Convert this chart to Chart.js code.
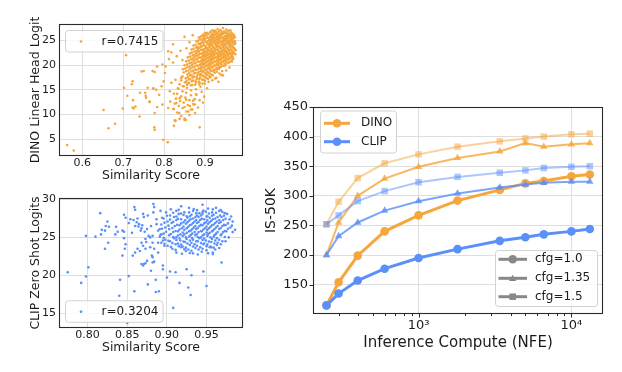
<!DOCTYPE html>
<html><head><meta charset="utf-8">
<script src="https://cdn.jsdelivr.net/npm/chart.js@4.4.0/dist/chart.umd.min.js"></script>
<style>
html,body{margin:0;padding:0;background:#fff;}
#wrap{position:relative;width:622px;height:372px;overflow:hidden;background:#fff;}
canvas{position:absolute;left:0;top:0;}
</style></head><body>
<div id="wrap">
<canvas id="c1" width="622" height="372"></canvas>
<canvas id="c2" width="622" height="372"></canvas>
<canvas id="c3" width="622" height="372"></canvas>
</div>
<script>
// ---------------- DATA ----------------
const dinoSparse = [
[0.563,3.8],[0.579,2.7],[0.652,10.9],[0.664,7.2],[0.680,8.1],[0.699,11.2],[0.702,15.4],[0.707,22.0],[0.710,13.8],
[0.721,16.1],[0.723,16.7],[0.723,11.4],[0.726,11.2],[0.730,11.6],[0.724,12.9],[0.740,9.6],[0.741,14.4],[0.745,18.7],
[0.750,18.8],[0.754,14.4],[0.755,13.8],[0.756,13.4],[0.760,15.4],[0.764,12.5],[0.772,18.8],[0.774,15.3],[0.776,7.4],
[0.777,6.9],[0.777,18.6],[0.783,19.7],[0.796,20.1],[0.804,19.7],[0.802,18.4],[0.773,15.2],[0.781,15.0],[0.794,15.7],
[0.799,16.7],[0.788,14.0],[0.765,12.6],[0.783,11.5],[0.796,12.0],[0.777,10.3],[0.810,11.3],[0.824,7.7],[0.826,8.8],
[0.838,9.1],[0.850,9.2],[0.887,7.4],[0.798,4.9],[0.809,4.4],[0.850,25.7],[0.818,16.4],[0.828,17.0],[0.842,17.4],
[0.814,14.7],[0.834,15.3],[0.824,14.2],[0.846,15.7],[0.856,16.0],[0.838,13.3],[0.854,13.0],[0.871,12.8],[0.879,14.0],
[0.815,12.6],[0.830,12.3],[0.850,11.5],[0.863,11.7],[0.875,12.0],[0.887,12.9],[0.824,11.1],[0.837,10.3],[0.859,10.6],
[0.869,11.0],[0.883,11.4],[0.895,12.4],[0.850,8.9],[0.812,21.2],[0.822,20.5],[0.831,21.8],[0.818,22.6],[0.840,22.9],
[0.845,21.0],[0.855,23.4],[0.862,24.6],[0.870,26.0],[0.810,22.8],[0.822,24.2],[0.944,17.9],[0.933,16.6],[0.952,18.9],
[0.960,19.5],[0.928,17.4],[0.940,18.0]
];
const dinoCluster = [
[0.931,27.3],[0.944,27.5],[0.952,27.2],[0.917,27.0],[0.926,26.9],[0.938,27.1],[0.947,26.8],[0.958,27.0],
[0.905,26.5],[0.913,26.7],[0.922,26.6],[0.933,26.4],[0.941,26.7],[0.950,26.5],[0.957,26.3],[0.963,26.6],
[0.896,26.1],[0.909,26.3],[0.918,26.0],[0.927,26.2],[0.936,26.1],[0.944,26.3],[0.953,26.0],[0.960,26.2],[0.967,26.1],
[0.889,25.7],[0.901,25.9],[0.912,25.6],[0.921,25.8],[0.929,25.7],[0.937,25.9],[0.946,25.6],[0.955,25.8],[0.962,25.7],[0.969,25.9],
[0.894,25.3],[0.905,25.5],[0.915,25.2],[0.924,25.4],[0.932,25.3],[0.940,25.5],[0.948,25.2],[0.956,25.4],[0.964,25.3],[0.971,25.5],
[0.883,24.9],[0.898,25.1],[0.908,24.8],[0.918,25.0],[0.926,24.9],[0.934,25.1],[0.942,24.8],[0.950,25.0],[0.958,24.9],[0.966,25.1],[0.973,24.8],
[0.891,24.5],[0.902,24.7],[0.912,24.4],[0.921,24.6],[0.929,24.5],[0.937,24.7],[0.945,24.4],[0.953,24.6],[0.961,24.5],[0.968,24.7],
[0.877,24.1],[0.887,24.3],[0.897,24.0],[0.907,24.2],[0.915,24.1],[0.924,24.3],[0.932,24.0],[0.940,24.2],[0.948,24.1],[0.956,24.3],[0.964,24.0],[0.972,24.2],
[0.882,23.7],[0.893,23.9],[0.903,23.6],[0.912,23.8],[0.920,23.7],[0.928,23.9],[0.936,23.6],[0.944,23.8],[0.952,23.7],[0.960,23.9],[0.968,23.6],
[0.872,23.3],[0.886,23.5],[0.897,23.2],[0.906,23.4],[0.915,23.3],[0.923,23.5],[0.931,23.2],[0.939,23.4],[0.947,23.3],[0.955,23.5],[0.963,23.2],[0.971,23.4],
[0.879,22.9],[0.890,23.1],[0.900,22.8],[0.910,23.0],[0.918,22.9],[0.927,23.1],[0.935,22.8],[0.943,23.0],[0.951,22.9],[0.959,23.1],[0.967,22.8],[0.975,23.0],
[0.868,22.5],[0.883,22.7],[0.894,22.4],[0.904,22.6],[0.913,22.5],[0.921,22.7],[0.930,22.4],[0.938,22.6],[0.946,22.5],[0.954,22.7],[0.962,22.4],[0.970,22.6],
[0.875,22.1],[0.887,22.3],[0.898,22.0],[0.908,22.2],[0.917,22.1],[0.925,22.3],[0.934,22.0],[0.942,22.2],[0.950,22.1],[0.958,22.3],[0.966,22.0],[0.974,22.2],
[0.864,21.7],[0.880,21.9],[0.892,21.6],[0.902,21.8],[0.911,21.7],[0.920,21.9],[0.929,21.6],[0.937,21.8],[0.946,21.7],[0.955,21.9],[0.964,21.6],
[0.871,21.3],[0.885,21.5],[0.896,21.2],[0.906,21.4],[0.915,21.3],[0.924,21.5],[0.933,21.2],[0.942,21.4],[0.951,21.3],[0.961,21.5],[0.969,21.2],
[0.860,20.9],[0.877,21.1],[0.890,20.8],[0.900,21.0],[0.909,20.9],[0.918,21.1],[0.928,20.8],[0.937,21.0],[0.947,20.9],[0.957,21.1],
[0.867,20.5],[0.882,20.7],[0.894,20.4],[0.904,20.6],[0.913,20.5],[0.923,20.7],[0.933,20.4],[0.943,20.6],[0.954,20.5],[0.966,20.7],
[0.856,20.1],[0.873,20.3],[0.887,20.0],[0.898,20.2],[0.908,20.1],[0.918,20.3],[0.928,20.0],[0.939,20.2],[0.951,20.1],
[0.863,19.7],[0.879,19.9],[0.891,19.6],[0.902,19.8],[0.912,19.7],[0.923,19.9],[0.934,19.6],[0.947,19.8],
[0.852,19.3],[0.869,19.5],[0.884,19.2],[0.896,19.4],[0.907,19.3],[0.918,19.5],[0.930,19.2],
[0.860,18.9],[0.876,19.1],[0.890,18.8],[0.901,19.0],[0.913,18.9],[0.926,19.1],[0.942,18.8],
[0.848,18.5],[0.867,18.7],[0.882,18.4],[0.895,18.6],[0.908,18.5],[0.921,18.7],
[0.857,18.1],[0.873,18.3],[0.888,18.0],[0.902,18.2],[0.916,18.1],[0.935,18.3],
[0.845,17.7],[0.864,17.9],[0.880,17.6],[0.895,17.8],[0.911,17.7],
[0.853,17.3],[0.870,17.5],[0.886,17.2],[0.903,17.4],[0.925,17.3],
[0.842,16.9],[0.861,17.1],[0.877,16.8],[0.896,17.0],[0.918,16.9],
[0.851,16.5],[0.868,16.7],[0.887,16.4],[0.909,16.6],
[0.838,16.1],[0.858,16.3],[0.876,16.0],[0.899,16.2],
[0.848,15.7],[0.866,15.9],[0.889,15.6],
[0.835,15.2],[0.856,15.4],[0.878,15.1],[0.905,15.3],
[0.845,14.7],[0.866,14.9],[0.892,14.6],
[0.832,14.2],[0.854,14.4],[0.878,14.1],
[0.842,13.7],[0.866,13.9],[0.898,13.6],
[0.829,13.2],[0.852,13.4],[0.875,13.1],
[0.839,12.7],[0.862,12.9],[0.826,12.2],[0.848,12.4],[0.871,12.1],
[0.836,11.7],[0.858,11.9],[0.822,11.1],[0.845,11.3],[0.866,11.0],
[0.832,10.4],[0.855,10.6],[0.876,10.3],[0.842,9.7],[0.862,9.9],[0.828,8.7],[0.853,8.9]
];
const dinoCore = [
[0.921,26.95],[0.934,26.85],[0.955,26.75],[0.962,27.05],
[0.900,26.45],[0.917,26.35],[0.928,26.55],[0.939,26.3],[0.946,26.5],[0.955,26.4],[0.967,26.35],
[0.893,25.95],[0.904,26.05],[0.914,25.9],[0.923,26.1],[0.931,25.95],[0.940,26.05],[0.949,25.85],[0.958,26.1],[0.964,25.9],[0.971,26.05],
[0.885,25.55],[0.897,25.65],[0.907,25.5],[0.917,25.6],[0.925,25.45],[0.934,25.65],[0.942,25.55],[0.951,25.45],[0.959,25.6],[0.966,25.5],[0.973,25.65],
[0.888,25.15],[0.900,25.25],[0.910,25.05],[0.920,25.25],[0.928,25.15],[0.936,25.3],[0.944,25.1],[0.953,25.2],[0.961,25.05],[0.968,25.25],
[0.879,24.75],[0.894,24.85],[0.904,24.65],[0.914,24.8],[0.923,24.7],[0.931,24.85],[0.939,24.65],[0.947,24.8],[0.955,24.7],[0.963,24.85],[0.970,24.6],
[0.884,24.35],[0.896,24.45],[0.906,24.3],[0.917,24.4],[0.926,24.25],[0.934,24.45],[0.942,24.35],[0.950,24.3],[0.958,24.45],[0.966,24.35],[0.974,24.45],
[0.872,23.95],[0.889,24.05],[0.901,23.85],[0.910,24.0],[0.919,23.9],[0.927,24.05],[0.935,23.85],[0.943,24.0],[0.951,23.9],[0.959,24.05],[0.967,23.85],
[0.878,23.55],[0.891,23.65],[0.902,23.45],[0.911,23.6],[0.920,23.5],[0.929,23.65],[0.937,23.45],[0.945,23.6],[0.953,23.5],[0.962,23.65],[0.970,23.5],
[0.867,23.15],[0.883,23.25],[0.895,23.05],[0.905,23.2],[0.914,23.1],[0.923,23.25],[0.932,23.05],[0.940,23.2],[0.948,23.1],[0.956,23.25],[0.965,23.05],[0.973,23.2],
[0.874,22.75],[0.886,22.85],[0.897,22.65],[0.907,22.8],[0.916,22.7],[0.925,22.85],[0.934,22.65],[0.942,22.8],[0.950,22.7],[0.958,22.85],[0.966,22.65],
[0.863,22.35],[0.879,22.45],[0.891,22.25],[0.901,22.4],[0.911,22.3],[0.920,22.45],[0.929,22.25],[0.937,22.4],[0.945,22.3],[0.953,22.45],[0.961,22.25],[0.969,22.4],
[0.870,21.95],[0.884,22.05],[0.895,21.85],[0.905,22.0],[0.914,21.9],[0.923,22.05],[0.932,21.85],[0.940,22.0],[0.948,21.9],[0.957,22.05],[0.965,21.85],
[0.858,21.55],[0.875,21.65],[0.888,21.45],[0.899,21.6],[0.909,21.5],[0.918,21.65],[0.926,21.45],[0.935,21.6],[0.944,21.5],[0.952,21.65],[0.960,21.45],[0.968,21.6],
[0.866,21.15],[0.881,21.25],[0.893,21.05],[0.903,21.2],[0.912,21.1],[0.921,21.25],[0.930,21.05],[0.939,21.2],[0.948,21.1],[0.956,21.25],[0.965,21.05],
[0.854,20.75],[0.872,20.85],[0.885,20.65],[0.896,20.8],[0.906,20.7],[0.915,20.85],[0.924,20.65],[0.933,20.8],[0.942,20.7],[0.951,20.85],[0.961,20.65],
[0.862,20.35],[0.877,20.45],[0.890,20.25],[0.901,20.4],[0.910,20.3],[0.919,20.45],[0.929,20.25],[0.938,20.4],[0.948,20.3],[0.958,20.45],
[0.850,19.95],[0.868,20.05],[0.882,19.85],[0.894,20.0],[0.904,19.9],[0.913,20.05],[0.923,19.85],[0.933,20.0],[0.943,19.9],
[0.857,19.55],[0.874,19.65],[0.887,19.45],[0.898,19.6],[0.908,19.5],[0.918,19.65],[0.928,19.45],[0.939,19.6],
[0.846,19.15],[0.864,19.25],[0.879,19.05],[0.891,19.2],[0.902,19.1],[0.912,19.25],[0.922,19.05],[0.934,19.2],
[0.854,18.75],[0.871,18.85],[0.885,18.65],[0.896,18.8],[0.906,18.7],[0.916,18.85],[0.929,18.65],
[0.861,18.35],[0.876,18.45],[0.890,18.25],[0.901,18.4],[0.912,18.3],[0.924,18.45],
[0.867,17.95],[0.882,18.05],[0.894,17.85],[0.906,18.0],[0.919,17.9],
[0.858,17.55],[0.874,17.65],[0.888,17.45],[0.900,17.6],[0.913,17.5],
[0.864,17.15],[0.880,17.25],[0.893,17.05],[0.907,17.2],
[0.855,16.75],[0.871,16.85],[0.885,16.65],[0.900,16.8],
[0.861,16.35],[0.878,16.45],[0.894,16.25],[0.869,15.95],[0.886,16.05]
];
const clipSparse = [
[0.775,20.4],[0.792,19.0],[0.798,19.85],[0.801,21.05],[0.792,15.25],[0.798,25.2],[0.810,25.1],[0.816,28.2],[0.817,25.4],
[0.818,26.0],[0.822,25.9],[0.823,26.5],[0.825,27.1],[0.827,26.4],[0.826,24.3],[0.822,23.5],[0.835,25.4],[0.838,25.75],
[0.844,25.9],[0.846,25.75],[0.846,28.0],[0.846,24.9],[0.848,24.1],[0.847,23.5],[0.844,22.6],[0.840,17.3],[0.841,19.4],
[0.852,19.9],[0.850,13.7],[0.859,29.0],[0.860,28.65],[0.854,27.4],[0.858,27.3],[0.863,27.5],[0.865,26.75],[0.860,26.5],
[0.864,26.45],[0.869,26.6],[0.870,28.1],[0.871,27.7],[0.867,25.9],[0.872,25.75],[0.875,26.1],[0.877,25.2],[0.873,24.8],
[0.868,24.3],[0.870,23.9],[0.860,23.0],[0.857,22.6],[0.863,23.5],[0.873,23.5],[0.879,23.7],[0.882,24.3],[0.871,21.5],
[0.868,21.5],[0.873,21.6],[0.870,21.3],[0.875,21.9],[0.882,21.7],[0.884,21.8],[0.859,17.9],[0.876,18.8],[0.969,21.7],
[0.946,20.5],[0.931,20.0],[0.911,20.4],[0.904,20.5],[0.925,20.8],[0.895,21.3],[0.895,20.8],[0.900,19.7],[0.886,19.4],
[0.916,19.0],[0.950,18.6],[0.927,18.4],[0.886,17.8],[0.890,17.9],[0.930,17.4],[0.908,15.7],[0.956,23.7],[0.958,22.8],
[0.882,22.4],[0.889,23.0],[0.880,20.6],[0.883,29.4],[0.884,29.0],[0.892,28.5],[0.894,27.6],[0.887,27.4],[0.883,28.3],
[0.887,26.75],[0.891,26.1],[0.893,25.4],[0.882,25.2],[0.889,24.3],[0.895,24.6],[0.897,23.9],[0.884,23.5],[0.880,26.5],
[0.862,27.0],[0.868,26.2],[0.876,27.9],[0.879,25.0],[0.856,25.6],[0.852,26.9],[0.874,24.4],[0.866,23.2],[0.881,22.6],
[0.848,27.6],[0.836,26.4]
];
const clipCluster = [
[0.918,29.1],[0.945,29.3],[0.905,28.7],[0.928,28.9],[0.938,28.6],[0.952,28.8],[0.962,28.9],
[0.899,28.3],[0.912,28.5],[0.922,28.3],[0.933,28.5],[0.941,28.2],[0.949,28.4],[0.957,28.3],[0.966,28.5],[0.973,28.2],
[0.904,27.9],[0.915,28.1],[0.925,27.8],[0.931,28.0],[0.938,27.9],[0.945,28.1],[0.951,27.8],[0.959,28.0],[0.967,27.9],[0.976,28.1],
[0.896,27.5],[0.909,27.7],[0.918,27.4],[0.926,27.6],[0.933,27.5],[0.940,27.7],[0.947,27.4],[0.954,27.6],[0.961,27.5],[0.969,27.7],[0.979,27.4],
[0.901,27.1],[0.912,27.3],[0.921,27.0],[0.928,27.2],[0.935,27.1],[0.942,27.3],[0.949,27.0],[0.956,27.2],[0.963,27.1],[0.971,27.3],[0.983,27.1],
[0.893,26.7],[0.906,26.9],[0.916,26.6],[0.924,26.8],[0.931,26.7],[0.938,26.9],[0.945,26.6],[0.952,26.8],[0.959,26.7],[0.966,26.9],[0.974,26.6],
[0.898,26.3],[0.910,26.5],[0.919,26.2],[0.927,26.4],[0.934,26.3],[0.941,26.5],[0.948,26.2],[0.955,26.4],[0.962,26.3],[0.970,26.5],[0.980,26.3],
[0.889,25.9],[0.903,26.1],[0.914,25.8],[0.922,26.0],[0.930,25.9],[0.937,26.1],[0.944,25.8],[0.951,26.0],[0.958,25.9],[0.966,26.1],[0.975,25.8],[0.986,26.0],
[0.896,25.5],[0.908,25.7],[0.917,25.4],[0.925,25.6],[0.932,25.5],[0.940,25.7],[0.947,25.4],[0.954,25.6],[0.962,25.5],[0.971,25.7],
[0.891,25.1],[0.903,25.3],[0.912,25.0],[0.920,25.2],[0.928,25.1],[0.936,25.3],[0.943,25.0],[0.951,25.2],[0.959,25.1],[0.968,25.3],[0.978,25.0],
[0.898,24.7],[0.909,24.9],[0.917,24.6],[0.925,24.8],[0.933,24.7],[0.941,24.9],[0.949,24.6],[0.957,24.8],[0.966,24.7],
[0.893,24.3],[0.904,24.5],[0.914,24.2],[0.923,24.4],[0.931,24.3],[0.939,24.5],[0.947,24.2],[0.956,24.4],[0.964,24.3],[0.974,24.5],
[0.901,23.9],[0.911,24.1],[0.920,23.8],[0.929,24.0],[0.938,23.9],[0.946,24.1],[0.955,23.8],[0.963,24.0],
[0.907,23.5],[0.918,23.7],[0.927,23.4],[0.936,23.6],[0.945,23.5],[0.954,23.7],[0.966,23.6],
[0.912,23.0],[0.924,23.2],[0.933,22.9],[0.944,23.1],[0.958,23.0]
];
const clipCore = [
[0.915,28.65],[0.934,28.75],[0.946,28.55],[0.958,28.7],[0.968,28.6],
[0.908,28.25],[0.918,28.15],[0.928,28.3],[0.937,28.2],[0.945,28.35],[0.953,28.15],[0.962,28.25],[0.970,28.35],
[0.900,27.85],[0.912,27.75],[0.921,27.95],[0.929,27.8],[0.936,27.7],[0.943,27.9],[0.950,27.75],[0.957,27.85],[0.964,27.7],[0.972,27.85],[0.981,27.75],
[0.904,27.35],[0.914,27.45],[0.923,27.25],[0.930,27.4],[0.937,27.3],[0.944,27.45],[0.951,27.25],[0.958,27.4],[0.966,27.3],[0.974,27.45],
[0.897,26.95],[0.908,27.05],[0.918,26.85],[0.926,27.0],[0.933,26.9],[0.940,27.05],[0.947,26.85],[0.954,27.0],[0.961,26.9],[0.968,27.05],[0.977,26.85],
[0.902,26.55],[0.913,26.65],[0.921,26.45],[0.929,26.6],[0.936,26.5],[0.943,26.65],[0.950,26.45],[0.957,26.6],[0.964,26.5],[0.972,26.65],[0.982,26.55],
[0.894,26.15],[0.907,26.25],[0.916,26.05],[0.925,26.2],[0.932,26.1],[0.939,26.25],[0.946,26.05],[0.953,26.2],[0.960,26.1],[0.968,26.25],[0.977,26.15],
[0.899,25.75],[0.911,25.85],[0.920,25.65],[0.928,25.8],[0.935,25.7],[0.943,25.85],[0.950,25.65],[0.957,25.8],[0.964,25.7],[0.973,25.85],[0.983,25.7],
[0.892,25.35],[0.905,25.45],[0.914,25.25],[0.922,25.4],[0.930,25.3],[0.938,25.45],[0.945,25.25],[0.952,25.4],[0.960,25.3],[0.969,25.45],
[0.896,24.95],[0.908,25.05],[0.916,24.85],[0.924,25.0],[0.932,24.9],[0.939,25.05],[0.947,24.85],[0.955,25.0],[0.963,24.9],[0.973,25.05],
[0.902,24.55],[0.912,24.65],[0.921,24.45],[0.929,24.6],[0.937,24.5],[0.945,24.65],[0.953,24.45],[0.961,24.6],[0.970,24.5],
[0.897,24.15],[0.907,24.25],[0.918,24.05],[0.926,24.2],[0.935,24.1],[0.943,24.25],[0.951,24.05],[0.960,24.2],[0.968,24.1],
[0.905,23.75],[0.915,23.85],[0.924,23.65],[0.933,23.8],[0.942,23.7],[0.950,23.85],[0.959,23.65],
[0.911,23.35],[0.922,23.45],[0.931,23.25],[0.940,23.4],[0.950,23.3],[0.961,23.4],
[0.919,22.85],[0.929,22.95],[0.939,22.75],[0.952,22.9]
];
const dinoLegend = 'r=0.7415';
const clipLegend = 'r=0.3204';
const simTicksTop = [0.6, 0.7, 0.8, 0.9];
const dinoLogitTicks = [5, 10, 15, 20, 25];
const simTicksBottom = [0.80, 0.85, 0.90, 0.95];
const clipLogitTicks = [15, 20, 25, 30];

const nfe = [250, 300, 400, 600, 1000, 1800, 3400, 5000, 6600, 10000, 13200];
const dinoCfg10  = [115, 154, 199, 240, 267, 292, 310, 321, 325, 333, 336];
const dinoCfg135 = [200, 255, 300, 329, 349, 364, 375, 389, 383, 387, 389];
const dinoCfg15  = [252, 290, 330, 355, 370, 383, 392, 397, 400, 404, 405];
const clipCfg10  = [115, 135, 157, 177, 195, 210, 224, 230, 235, 240, 244];
const clipCfg135 = [200, 232, 255, 275, 291, 304, 314, 319, 322, 324, 324];
const clipCfg15  = [252, 267, 291, 308, 323, 332, 339, 343, 347, 349, 350];
const isTicks = [150, 200, 250, 300, 350, 400, 450];
const nfeMajor = [1000, 10000];
const nfeMinor = [300, 400, 500, 600, 700, 800, 900, 2000, 3000, 4000, 5000, 6000, 7000, 8000, 9000];
const methodNames = ['DINO', 'CLIP'];
const cfgNames = ['cfg=1.0', 'cfg=1.35', 'cfg=1.5'];

// ---------------- STYLE ----------------
const FONT = '"DejaVu Sans", "Liberation Sans", sans-serif';
Chart.defaults.font.family = FONT;
const TXT = '#1c1c1c';
const GRID = '#dedede';
const AXIS = '#2a2a2a';
const OR = [245,166,60], BL = [91,143,249];
const rgba = (c,a) => `rgba(${c[0]},${c[1]},${c[2]},${a})`;

const fix = size => scale => {
  if (scale.isHorizontal()) scale.height = size; else scale.width = size;
  scale.paddingLeft = scale.paddingRight = scale.paddingTop = scale.paddingBottom = 0;
};
const setTicks = arr => scale => { scale.ticks = arr.map(v => ({value: v})); };

function legendBox(ctx, x, y, w, h) {
  ctx.save();
  ctx.beginPath();
  if (ctx.roundRect) ctx.roundRect(x + 0.5, y + 0.5, w, h, 3); else ctx.rect(x + 0.5, y + 0.5, w, h);
  ctx.fillStyle = 'rgba(255,255,255,0.8)';
  ctx.fill();
  ctx.strokeStyle = '#d2d2d2';
  ctx.lineWidth = 1;
  ctx.stroke();
  ctx.restore();
}
function marker(ctx, style, x, y, r, color) {
  ctx.save();
  ctx.fillStyle = color;
  ctx.beginPath();
  if (style === 'circle') ctx.arc(x, y, r, 0, Math.PI * 2);
  else if (style === 'triangle') {
    for (let k = 0; k < 3; k++) {
      const a = -Math.PI / 2 + k * 2 * Math.PI / 3;
      const px = x + Math.cos(a) * r, py = y + Math.sin(a) * r + r * 0.15;
      k ? ctx.lineTo(px, py) : ctx.moveTo(px, py);
    }
    ctx.closePath();
  } else {
    const s = r * 1.414;
    ctx.rect(x - s / 2, y - s / 2, s, s);
  }
  ctx.fill();
  ctx.restore();
}
function text(ctx, str, x, y, size) {
  ctx.save();
  ctx.font = `${size}px ${FONT}`;
  ctx.fillStyle = TXT;
  ctx.textBaseline = 'middle';
  ctx.textAlign = 'left';
  ctx.fillText(str, x, y);
  ctx.restore();
}
function frame(chart) {
  const {ctx, chartArea: a} = chart;
  ctx.save();
  ctx.strokeStyle = AXIS;
  ctx.lineWidth = 1.1;
  ctx.strokeRect(a.left + 0.5, a.top + 0.5, a.right - a.left - 1, a.bottom - a.top - 1);
  ctx.restore();
}

function scatterConfig(points, color, pad, xTicks, xDec, xMin, xMax, yTicks, yMin, yMax, yTitle, legendStr, legendY) {
  return {
    type: 'scatter',
    data: {datasets: [{data: points.map(p => ({x: p[0], y: p[1]})), backgroundColor: color, borderWidth: 0,
      pointRadius: 1.3, pointHoverRadius: 1.3}]},
    options: {
      responsive: false, animation: false, devicePixelRatio: 1, events: [],
      layout: {padding: pad},
      plugins: {legend: {display: false}, tooltip: {enabled: false}},
      scales: {
        x: {type: 'linear', min: xMin, max: xMax, afterBuildTicks: setTicks(xTicks), afterFit: fix(30),
          grid: {color: GRID, drawTicks: false}, border: {display: false},
          ticks: {font: {size: 11}, color: TXT, padding: 1, autoSkip: false, maxRotation: 0, callback: v => v.toFixed(xDec)},
          title: {display: true, text: 'Similarity Score', font: {size: 12.5}, color: TXT, padding: {top: 0, bottom: 3}}},
        y: {type: 'linear', min: yMin, max: yMax, afterBuildTicks: setTicks(yTicks), afterFit: fix(59),
          grid: {color: GRID, drawTicks: false}, border: {display: false},
          ticks: {font: {size: 11}, color: TXT, padding: 3, autoSkip: false, callback: v => String(v)},
          title: {display: true, text: yTitle, font: {size: 12.5}, color: TXT, padding: {top: 28.5, bottom: 0}}}
      }
    },
    plugins: [{id: 'deco', afterDraw(chart) {
      frame(chart);
      const ctx = chart.ctx;
      legendBox(ctx, 65, legendY - 11.5, 97.5, 21.5);
      marker(ctx, 'circle', 81, legendY, 1.3, color);
      text(ctx, legendStr, 101.5, legendY, 12);
    }}]
  };
}

new Chart(document.getElementById('c1'), scatterConfig(
  dinoSparse.concat(dinoCluster, dinoCore), rgba(OR, 1), {left: 0, top: 24, right: 379, bottom: 186},
  simTicksTop, 1, 0.543, 0.993, dinoLogitTicks, 1.6, 28.3, 'DINO Linear Head Logit', dinoLegend, 41.5));

new Chart(document.getElementById('c2'), scatterConfig(
  clipSparse.concat(clipCluster, clipCore), rgba(BL, 1), {left: 0, top: 198, right: 379, bottom: 14},
  simTicksBottom, 2, 0.764, 0.996, clipLogitTicks, 13.05, 30.2, 'CLIP Zero Shot Logits', clipLegend, 311.8));

// ---------------- RIGHT CHART ----------------
function series(label, arr, col, alpha, style, lw, r) {
  return {label, data: nfe.map((x, i) => ({x, y: arr[i]})), showLine: true,
    borderColor: rgba(col, alpha), backgroundColor: rgba(col, alpha), borderWidth: lw,
    pointStyle: style, pointRadius: r, pointHoverRadius: r, pointBorderWidth: 0, tension: 0};
}
const allNfeTicks = nfeMinor.concat(nfeMajor).sort((a, b) => a - b);
new Chart(document.getElementById('c3'), {
  type: 'scatter',
  data: {datasets: [
    series('CLIP cfg=1.0', clipCfg10, BL, 1, 'circle', 3, 4.3),
    series('CLIP cfg=1.35', clipCfg135, BL, 0.8, 'triangle', 2, 4.3),
    series('CLIP cfg=1.5', clipCfg15, BL, 0.5, 'rect', 2, 4.6),
    series('DINO cfg=1.0', dinoCfg10, OR, 1, 'circle', 3, 4.3),
    series('DINO cfg=1.35', dinoCfg135, OR, 0.8, 'triangle', 2, 4.3),
    series('DINO cfg=1.5', dinoCfg15, OR, 0.5, 'rect', 2, 4.6)
  ]},
  options: {
    responsive: false, animation: false, devicePixelRatio: 1, events: [],
    layout: {padding: {left: 250, top: 107, right: 19, bottom: 8}},
    plugins: {legend: {display: false}, tooltip: {enabled: false}},
    scales: {
      x: {type: 'logarithmic', min: 204, max: 16100, afterBuildTicks: setTicks(allNfeTicks), afterFit: fix(50),
        grid: {drawTicks: false, color: c => (c.tick && nfeMajor.includes(c.tick.value)) ? GRID : 'rgba(0,0,0,0)'},
        border: {display: false},
        ticks: {font: {size: 13}, color: TXT, padding: 4, autoSkip: false, maxRotation: 0,
          callback: v => v === 1000 ? '10³' : (v === 10000 ? '10⁴' : '')},
        title: {display: true, text: 'Inference Compute (NFE)', font: {size: 15}, color: TXT, padding: {top: 0, bottom: 11.7}}},
      y: {type: 'linear', min: 100.5, max: 450, afterBuildTicks: setTicks(isTicks), afterFit: fix(63),
        grid: {color: GRID, drawTicks: false}, border: {display: false},
        ticks: {font: {size: 13}, color: TXT, padding: 5, autoSkip: false, callback: v => String(v)},
        title: {display: true, text: 'IS-50K', font: {size: 14}, color: TXT, padding: {top: 13.3, bottom: 0}}}
    }
  },
  plugins: [{id: 'deco3', afterDraw(chart) {
    frame(chart);
    const ctx = chart.ctx, a = chart.chartArea;
    const xs = chart.scales.x, ys = chart.scales.y;
    ctx.save();
    ctx.strokeStyle = AXIS; ctx.lineWidth = 1;
    allNfeTicks.forEach(v => {
      const px = Math.round(xs.getPixelForValue(v)) + 0.5;
      const len = nfeMajor.includes(v) ? 3.5 : 2;
      ctx.beginPath(); ctx.moveTo(px, a.bottom); ctx.lineTo(px, a.bottom + len); ctx.stroke();
    });
    isTicks.forEach(v => {
      const py = Math.round(ys.getPixelForValue(v)) + 0.5;
      ctx.beginPath(); ctx.moveTo(a.left, py); ctx.lineTo(a.left - 3.5, py); ctx.stroke();
    });
    ctx.restore();
    // legend 1: methods
    legendBox(ctx, 320, 110.5, 76, 42);
    [[OR, 123.3], [BL, 141.7]].forEach((e, i) => {
      ctx.save(); ctx.strokeStyle = rgba(e[0], 1); ctx.lineWidth = 3;
      ctx.beginPath(); ctx.moveTo(324, e[1]); ctx.lineTo(350, e[1]); ctx.stroke(); ctx.restore();
      marker(ctx, 'circle', 337, e[1], 4.3, rgba(e[0], 1));
      text(ctx, methodNames[i], 361, e[1], 12);
    });
    // legend 2: cfg
    legendBox(ctx, 495, 250, 102, 56);
    const GR = [136,136,136];
    [['circle', 259.3, 4.3], ['triangle', 278.3, 4.3], ['rect', 296.7, 4.6]].forEach((e, i) => {
      ctx.save(); ctx.strokeStyle = rgba(GR, 1); ctx.lineWidth = 3;
      ctx.beginPath(); ctx.moveTo(498.5, e[1]); ctx.lineTo(527, e[1]); ctx.stroke(); ctx.restore();
      marker(ctx, e[0], 512.7, e[1], e[2], rgba(GR, 1));
      text(ctx, cfgNames[i], 535, e[1], 12);
    });
  }}]
});
</script>
</body></html>
